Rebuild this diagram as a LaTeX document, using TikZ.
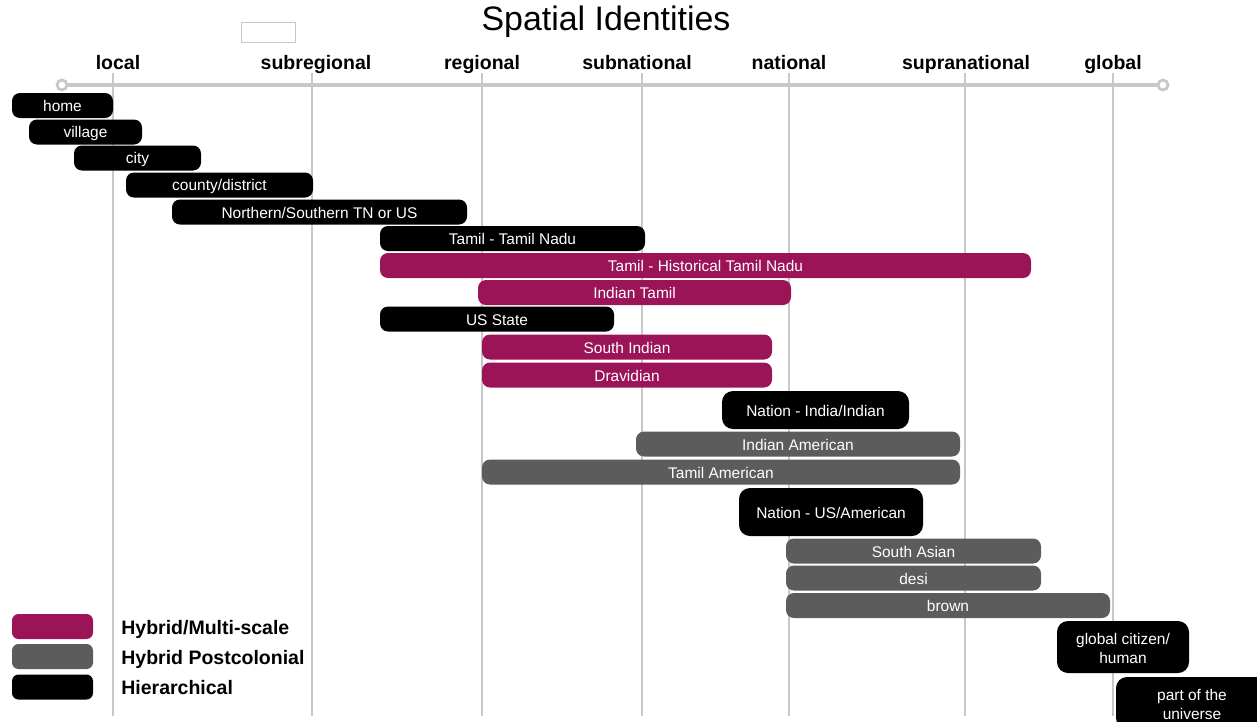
\documentclass[tikz,border=0pt]{standalone}
\usepackage{fontspec}
\setmainfont{Liberation Sans}
\usetikzlibrary{positioning}

\definecolor{hybridmag}{RGB}{155,20,88}
\definecolor{postgray}{RGB}{92,92,92}
\definecolor{gridgray}{RGB}{200,200,200}

\tikzset{
  idbox/.style={rounded corners=0.16cm,text=white,inner sep=0pt,minimum height=0.5cm,
    font=\fontsize{8.8}{10.5}\selectfont,align=center},
  hier/.style={idbox,fill=black},
  hybrid/.style={idbox,fill=hybridmag},
  postcol/.style={idbox,fill=postgray},
  scalelbl/.style={font=\fontsize{11.1}{13}\selectfont\bfseries,anchor=base},
  legendlbl/.style={font=\fontsize{11.1}{13}\selectfont\bfseries,anchor=base west,inner sep=0pt}
}

% name, style, x1, x2, y, text
\newcommand{\idbar}[6]{%
  \node[#2,minimum width={(#4-#3)*0.02cm}] (#1) at ({(#3+#4)/2},#5) {\rule[-1pt]{0pt}{9pt}#6};}

\begin{document}
\begin{tikzpicture}[x=0.02cm,y=-0.02cm]
  \useasboundingbox (0,0) rectangle (1257,721);
  \clip (0,0) rectangle (1257,721);

  \node[font=\fontsize{19.3}{22}\selectfont] (title) at (606,22) {Spatial Identities};
  \draw[gridgray,fill=white] (241,22) rectangle (295,42);

  % scale axis
  \foreach \x/\lx/\lbl/\nm in {113/118/local/loc, 312/316/subregional/subreg,
      482/482/regional/reg, 642/637/subnational/subnat, 789/789/national/nat,
      965/966/supranational/supra, 1113/1113/global/glob} {
    \node[scalelbl] (ax-\nm) at (\lx,69) {\lbl};
    \draw[gridgray,line width=1.2pt] (\x,73) -- (\x,716);
  }
  \draw[gridgray,line width=2.2pt] (67,85) -- (1158,85);
  \draw[gridgray,line width=1.6pt,fill=white] (62,85) circle (5) (1163,85) circle (5);

  % identities
  \idbar{home}{hier}{12}{113}{105.5}{home}
  \idbar{village}{hier}{29}{142}{132}{village}
  \idbar{city}{hier}{74}{201}{158}{city}
  \idbar{county}{hier}{126}{313}{185}{county/district}
  \idbar{northsouth}{hier}{172}{467}{212}{Northern/Southern TN or US}
  \idbar{tamilnadu}{hier}{380}{645}{238.5}{Tamil - Tamil Nadu}
  \idbar{histtamil}{hybrid}{380}{1031}{265.5}{Tamil - Historical Tamil Nadu}
  \idbar{indtamil}{hybrid}{478}{791}{292.5}{Indian Tamil}
  \idbar{usstate}{hier}{380}{614}{319}{US State}
  \idbar{southind}{hybrid}{482}{772}{347}{South Indian}
  \idbar{dravid}{hybrid}{482}{772}{375}{Dravidian}
  \idbar{natindia}{hier,minimum height=0.76cm,rounded corners=0.22cm}{722}{909}{410}{Nation - India/Indian}
  \idbar{indamer}{postcol}{636}{960}{444}{Indian American}
  \idbar{tamamer}{postcol}{482}{960}{472}{Tamil American}
  \idbar{natus}{hier,minimum height=0.96cm,rounded corners=0.22cm}{739}{923}{512}{Nation - US/American}
  \idbar{southasian}{postcol}{786}{1041}{551}{South Asian}
  \idbar{desi}{postcol}{786}{1041}{578}{desi}
  \idbar{brown}{postcol}{786}{1110}{605.5}{brown}
  \idbar{globcit}{hier,minimum height=1.04cm,rounded corners=0.22cm}{1057}{1189}{647}{global citizen/\\human}
  \idbar{universe}{hier,minimum height=1.04cm,rounded corners=0.22cm}{1116}{1268}{703}{part of the\\universe}

  % legend
  \idbar{leg-hyb}{hybrid,rounded corners=0.13cm}{12}{93}{626.5}{}
  \idbar{leg-post}{postcol,rounded corners=0.13cm}{12}{93}{656.5}{}
  \idbar{leg-hier}{hier,rounded corners=0.13cm}{12}{93}{687}{}
  \node[legendlbl] (lbl-hyb) at (121,634) {Hybrid/Multi-scale};
  \node[legendlbl] (lbl-post) at (121,664) {Hybrid Postcolonial};
  \node[legendlbl] (lbl-hier) at (121,694) {Hierarchical};
\end{tikzpicture}
\end{document}
